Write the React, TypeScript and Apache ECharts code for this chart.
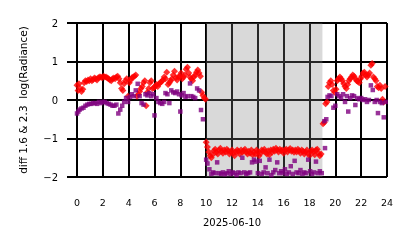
import React, { useEffect, useRef } from "react";
import * as echarts from "echarts";

const xTicks = [0, 2, 4, 6, 8, 10, 12, 14, 16, 18, 20, 22, 24];
const yTicks = [-2, -1, 0, 1, 2];
const xLabel = "2025-06-10";
const yLabel = "diff 1.6 & 2.3  log(Radiance)";
const shadeRange = [10, 19];

const redPoints: [number, number][] = [
  [0.0, 0.38], [0.08, 0.25], [0.15, 0.42], [0.25, 0.3], [0.35, 0.22], [0.45, 0.28], [0.55, 0.45], [0.65, 0.5],
  [0.75, 0.48], [0.85, 0.52], [0.95, 0.5], [1.05, 0.55], [1.15, 0.5], [1.25, 0.53], [1.35, 0.57], [1.45, 0.55],
  [1.55, 0.52], [1.65, 0.58], [1.75, 0.6], [1.85, 0.6], [1.95, 0.58], [2.05, 0.62], [2.15, 0.6], [2.25, 0.6],
  [2.35, 0.57], [2.45, 0.55], [2.55, 0.52], [2.65, 0.5], [2.75, 0.55], [2.85, 0.57], [2.95, 0.55], [3.05, 0.6],
  [3.15, 0.62], [3.25, 0.55], [3.35, 0.45], [3.45, 0.3], [3.55, 0.25], [3.65, 0.42], [3.75, 0.5], [3.85, 0.55],
  [3.95, 0.1], [4.05, 0.45], [4.15, 0.52], [4.25, 0.58], [4.35, 0.6], [4.45, 0.62], [4.55, 0.65], [4.65, 0.1],
  [4.75, 0.15], [4.85, 0.22], [4.95, 0.3], [5.05, 0.35], [5.15, 0.45], [5.25, 0.5], [5.35, -0.15], [5.45, 0.2],
  [5.55, 0.3], [5.65, 0.45], [5.75, 0.5], [5.85, 0.3], [5.95, 0.32], [6.05, 0.35], [6.15, 0.4], [6.25, 0.35],
  [6.35, 0.42], [6.45, 0.45], [6.55, 0.48], [6.65, 0.52], [6.75, 0.6], [6.85, 0.55], [6.95, 0.72], [7.05, 0.4],
  [7.15, 0.45], [7.25, 0.5], [7.35, 0.55], [7.45, 0.65], [7.55, 0.75], [7.65, 0.58], [7.75, 0.52], [7.85, 0.6],
  [7.95, 0.62], [8.05, 0.7], [8.15, 0.55], [8.25, 0.6], [8.35, 0.65], [8.45, 0.8], [8.55, 0.85], [8.65, 0.7],
  [8.75, 0.6], [8.85, 0.55], [8.95, 0.5], [9.05, 0.6], [9.15, 0.65], [9.25, 0.72], [9.35, 0.78], [9.45, 0.7],
  [9.55, 0.62], [9.65, 0.2], [9.75, 0.12], [9.85, 0.05], [9.95, 0.02],
  [10.0, -1.1], [10.1, -1.22], [10.2, -1.35], [10.3, -1.45], [10.4, -1.5], [10.5, -1.42], [10.6, -1.32], [10.7, -1.28],
  [10.8, -1.35], [10.9, -1.4], [11.0, -1.3], [11.1, -1.25], [11.2, -1.33], [11.3, -1.38], [11.4, -1.3], [11.5, -1.35],
  [11.6, -1.28], [11.7, -1.32], [11.8, -1.4], [11.9, -1.35], [12.0, -1.3], [12.1, -1.38], [12.2, -1.45], [12.3, -1.35],
  [12.4, -1.3], [12.5, -1.33], [12.6, -1.4], [12.7, -1.3], [12.8, -1.36], [12.9, -1.32], [13.0, -1.28], [13.1, -1.35],
  [13.2, -1.4], [13.3, -1.33], [13.4, -1.38], [13.5, -1.3], [13.6, -1.42], [13.7, -1.35], [13.8, -1.4], [13.9, -1.3],
  [14.0, -1.35], [14.1, -1.45], [14.2, -1.38], [14.3, -1.3], [14.4, -1.33], [14.5, -1.28], [14.6, -1.35], [14.7, -1.4],
  [14.8, -1.32], [14.9, -1.42], [15.0, -1.3], [15.1, -1.36], [15.2, -1.28], [15.3, -1.33], [15.4, -1.25], [15.5, -1.3],
  [15.6, -1.35], [15.7, -1.28], [15.8, -1.32], [15.9, -1.3], [16.0, -1.38], [16.1, -1.3], [16.2, -1.28], [16.3, -1.35],
  [16.4, -1.3], [16.5, -1.26], [16.6, -1.33], [16.7, -1.3], [16.8, -1.36], [16.9, -1.3], [17.0, -1.35], [17.1, -1.28],
  [17.2, -1.32], [17.3, -1.38], [17.4, -1.3], [17.5, -1.33], [17.6, -1.4], [17.7, -1.35], [17.8, -1.3], [17.9, -1.38],
  [18.0, -1.45], [18.1, -1.33], [18.2, -1.3], [18.3, -1.35], [18.4, -1.42], [18.5, -1.3], [18.6, -1.28], [18.7, -1.38],
  [18.8, -1.45], [18.9, -1.4],
  [19.05, -0.62], [19.15, -0.58], [19.25, -0.1], [19.35, -0.05], [19.45, 0.35], [19.55, 0.45], [19.65, 0.5], [19.75, 0.4],
  [19.85, 0.25], [19.95, 0.2], [20.05, 0.28], [20.15, 0.5], [20.25, 0.55], [20.35, 0.6], [20.45, 0.55], [20.55, 0.5],
  [20.65, 0.42], [20.75, 0.35], [20.85, 0.3], [20.95, 0.4], [21.05, 0.5], [21.15, 0.55], [21.25, 0.6], [21.35, 0.65],
  [21.45, 0.62], [21.55, 0.55], [21.65, 0.5], [21.75, 0.48], [21.85, 0.45], [21.95, 0.55], [22.05, 0.62], [22.15, 0.7],
  [22.25, 0.72], [22.35, 0.65], [22.45, 0.6], [22.55, 0.65], [22.65, 0.7], [22.75, 0.9], [22.85, 0.95], [22.95, 0.6],
  [23.05, 0.55], [23.15, 0.5], [23.25, 0.35], [23.35, 0.32], [23.45, 0.38], [23.55, 0.3], [23.65, 0.02], [23.75, -0.05],
  [23.85, 0.35],
];

const purplePoints: [number, number][] = [
  [0.0, -0.35], [0.1, -0.3], [0.2, -0.25], [0.35, -0.22], [0.5, -0.2], [0.65, -0.15], [0.8, -0.12], [0.95, -0.1],
  [1.1, -0.1], [1.25, -0.08], [1.4, -0.08], [1.55, -0.1], [1.7, -0.05], [1.85, -0.08], [2.0, -0.05], [2.15, -0.05],
  [2.3, -0.08], [2.45, -0.1], [2.6, -0.12], [2.75, -0.15], [2.9, -0.15], [3.05, -0.12], [3.2, -0.35], [3.35, -0.25],
  [3.5, -0.15], [3.65, -0.05], [3.8, 0.05], [3.95, -0.05], [4.1, 0.08], [4.25, 0.15], [4.4, 0.1], [4.55, 0.25],
  [4.7, 0.42], [4.85, 0.1], [5.0, -0.08], [5.15, -0.12], [5.3, 0.15], [5.45, 0.12], [5.6, 0.18], [5.75, 0.1],
  [5.9, 0.15], [6.0, -0.4], [6.15, 0.05], [6.3, -0.05], [6.45, -0.08], [6.6, -0.1], [6.75, -0.05], [6.85, 0.18],
  [7.0, 0.15], [7.15, -0.08], [7.3, 0.25], [7.45, 0.2], [7.6, 0.18], [7.75, 0.22], [7.9, 0.15], [8.0, -0.3],
  [8.1, 0.12], [8.25, 0.18], [8.4, 0.08], [8.55, 0.1], [8.75, 0.43], [8.85, 0.1], [9.0, 0.08], [9.15, 0.05],
  [9.3, 0.3], [9.45, 0.25], [9.6, -0.26], [9.75, -0.5],
  [10.0, -1.55], [10.1, -1.65], [10.25, -1.8], [10.4, -1.92], [10.55, -1.88], [10.7, -1.9], [10.85, -1.62], [11.0, -1.9],
  [11.15, -1.92], [11.3, -1.88], [11.45, -1.93], [11.6, -1.9], [11.75, -1.85], [11.9, -1.92], [12.05, -1.88], [12.2, -1.9],
  [12.35, -1.95], [12.5, -1.88], [12.65, -1.9], [12.8, -1.5], [12.95, -1.88], [13.1, -1.92], [13.25, -1.9], [13.4, -1.88],
  [13.55, -1.62], [13.7, -1.55], [13.85, -1.6], [14.0, -1.9], [14.15, -1.58], [14.3, -1.92], [14.45, -1.88], [14.6, -1.75],
  [14.75, -1.9], [14.9, -1.55], [15.05, -1.95], [15.2, -1.88], [15.35, -1.82], [15.5, -1.62], [15.65, -1.9], [15.8, -1.85],
  [15.95, -1.9], [16.1, -1.8], [16.25, -1.92], [16.4, -1.88], [16.55, -1.72], [16.7, -1.92], [16.85, -1.58], [17.0, -1.88],
  [17.15, -1.9], [17.3, -1.82], [17.45, -1.92], [17.6, -1.88], [17.75, -1.9], [17.9, -1.55], [18.05, -1.85], [18.2, -1.92],
  [18.35, -1.88], [18.5, -1.6], [18.65, -1.9], [18.8, -1.85], [18.95, -1.9],
  [19.2, -1.25], [19.15, -0.55], [19.3, -0.5], [19.4, 0.08], [19.55, 0.12], [19.7, 0.1], [19.85, -0.2], [20.0, -0.15],
  [20.15, 0.15], [20.3, 0.1], [20.45, 0.05], [20.6, 0.15], [20.75, -0.05], [20.9, 0.1], [21.0, -0.3], [21.15, 0.05],
  [21.3, 0.12], [21.45, 0.1], [21.55, -0.13], [21.7, 0.05], [21.85, 0.02], [22.0, 0.05], [22.15, 0.0], [22.3, 0.02],
  [22.45, -0.05], [22.6, 0.0], [22.75, 0.38], [22.9, 0.26], [23.05, -0.05], [23.2, 0.0], [23.3, -0.34], [23.45, -0.05],
  [23.6, -0.08], [23.75, -0.45], [23.9, -0.05],
];

const FONT = "DejaVu Sans";

export default function App() {
  const ref = useRef<HTMLDivElement>(null);
  useEffect(() => {
    if (!ref.current) return;
    const chart = echarts.init(ref.current, null, { renderer: "svg" });
    const minus = (v: number) => (v < 0 ? "\u2212" + Math.abs(v) : String(v));
    chart.setOption({
      animation: false,
      grid: { left: 77, right: 27, top: 23, bottom: 71 },
      xAxis: {
        type: "value",
        min: xTicks[0],
        max: xTicks[xTicks.length - 1],
        interval: 2,
        name: xLabel,
        nameLocation: "middle",
        nameGap: 40,
        nameTextStyle: { fontFamily: FONT, fontSize: 10, color: "#000" },
        axisLine: { show: true, lineStyle: { color: "#000", width: 2 } },
        axisTick: { show: true, length: 10, inside: false, lineStyle: { color: "#000", width: 2 } },
        axisLabel: { fontFamily: FONT, fontSize: 9.5, color: "#000", margin: 20 },
        splitLine: { show: true, lineStyle: { color: "#000", width: 2 } },
      },
      yAxis: {
        type: "value",
        min: yTicks[0],
        max: yTicks[yTicks.length - 1],
        interval: 1,
        name: yLabel,
        nameLocation: "middle",
        nameGap: 49,
        nameTextStyle: { fontFamily: FONT, fontSize: 10.5, color: "#000" },
        axisLine: { show: true, lineStyle: { color: "#000", width: 2 } },
        axisTick: { show: true, length: 10, lineStyle: { color: "#000", width: 2 } },
        axisLabel: { fontFamily: FONT, fontSize: 10, color: "#000", margin: 19, formatter: minus },
        splitLine: { show: true, lineStyle: { color: "#000", width: 2 } },
      },
      series: [
        {
          type: "scatter",
          data: redPoints,
          symbol: "diamond",
          symbolSize: 7,
          itemStyle: { color: "#ff0000" },
          z: 2,
        },
        {
          type: "scatter",
          data: purplePoints,
          symbol: "rect",
          symbolSize: 4.5,
          itemStyle: { color: "#800080" },
          z: 3,
        },
        {
          type: "line",
          data: [[shadeRange[0], 0], [shadeRange[1], 0]],
          symbol: "none",
          lineStyle: { opacity: 0 },
          silent: true,
          z: 5,
          markArea: {
            silent: true,
            itemStyle: { color: "rgba(128,128,128,0.3)" },
            data: [[{ xAxis: shadeRange[0] }, { xAxis: shadeRange[1] }]],
          },
        },
      ],
    });
    return () => chart.dispose();
  }, []);
  return <div ref={ref} style={{ position: "fixed", left: 0, top: 0, width: 414, height: 248 }} />;
}
